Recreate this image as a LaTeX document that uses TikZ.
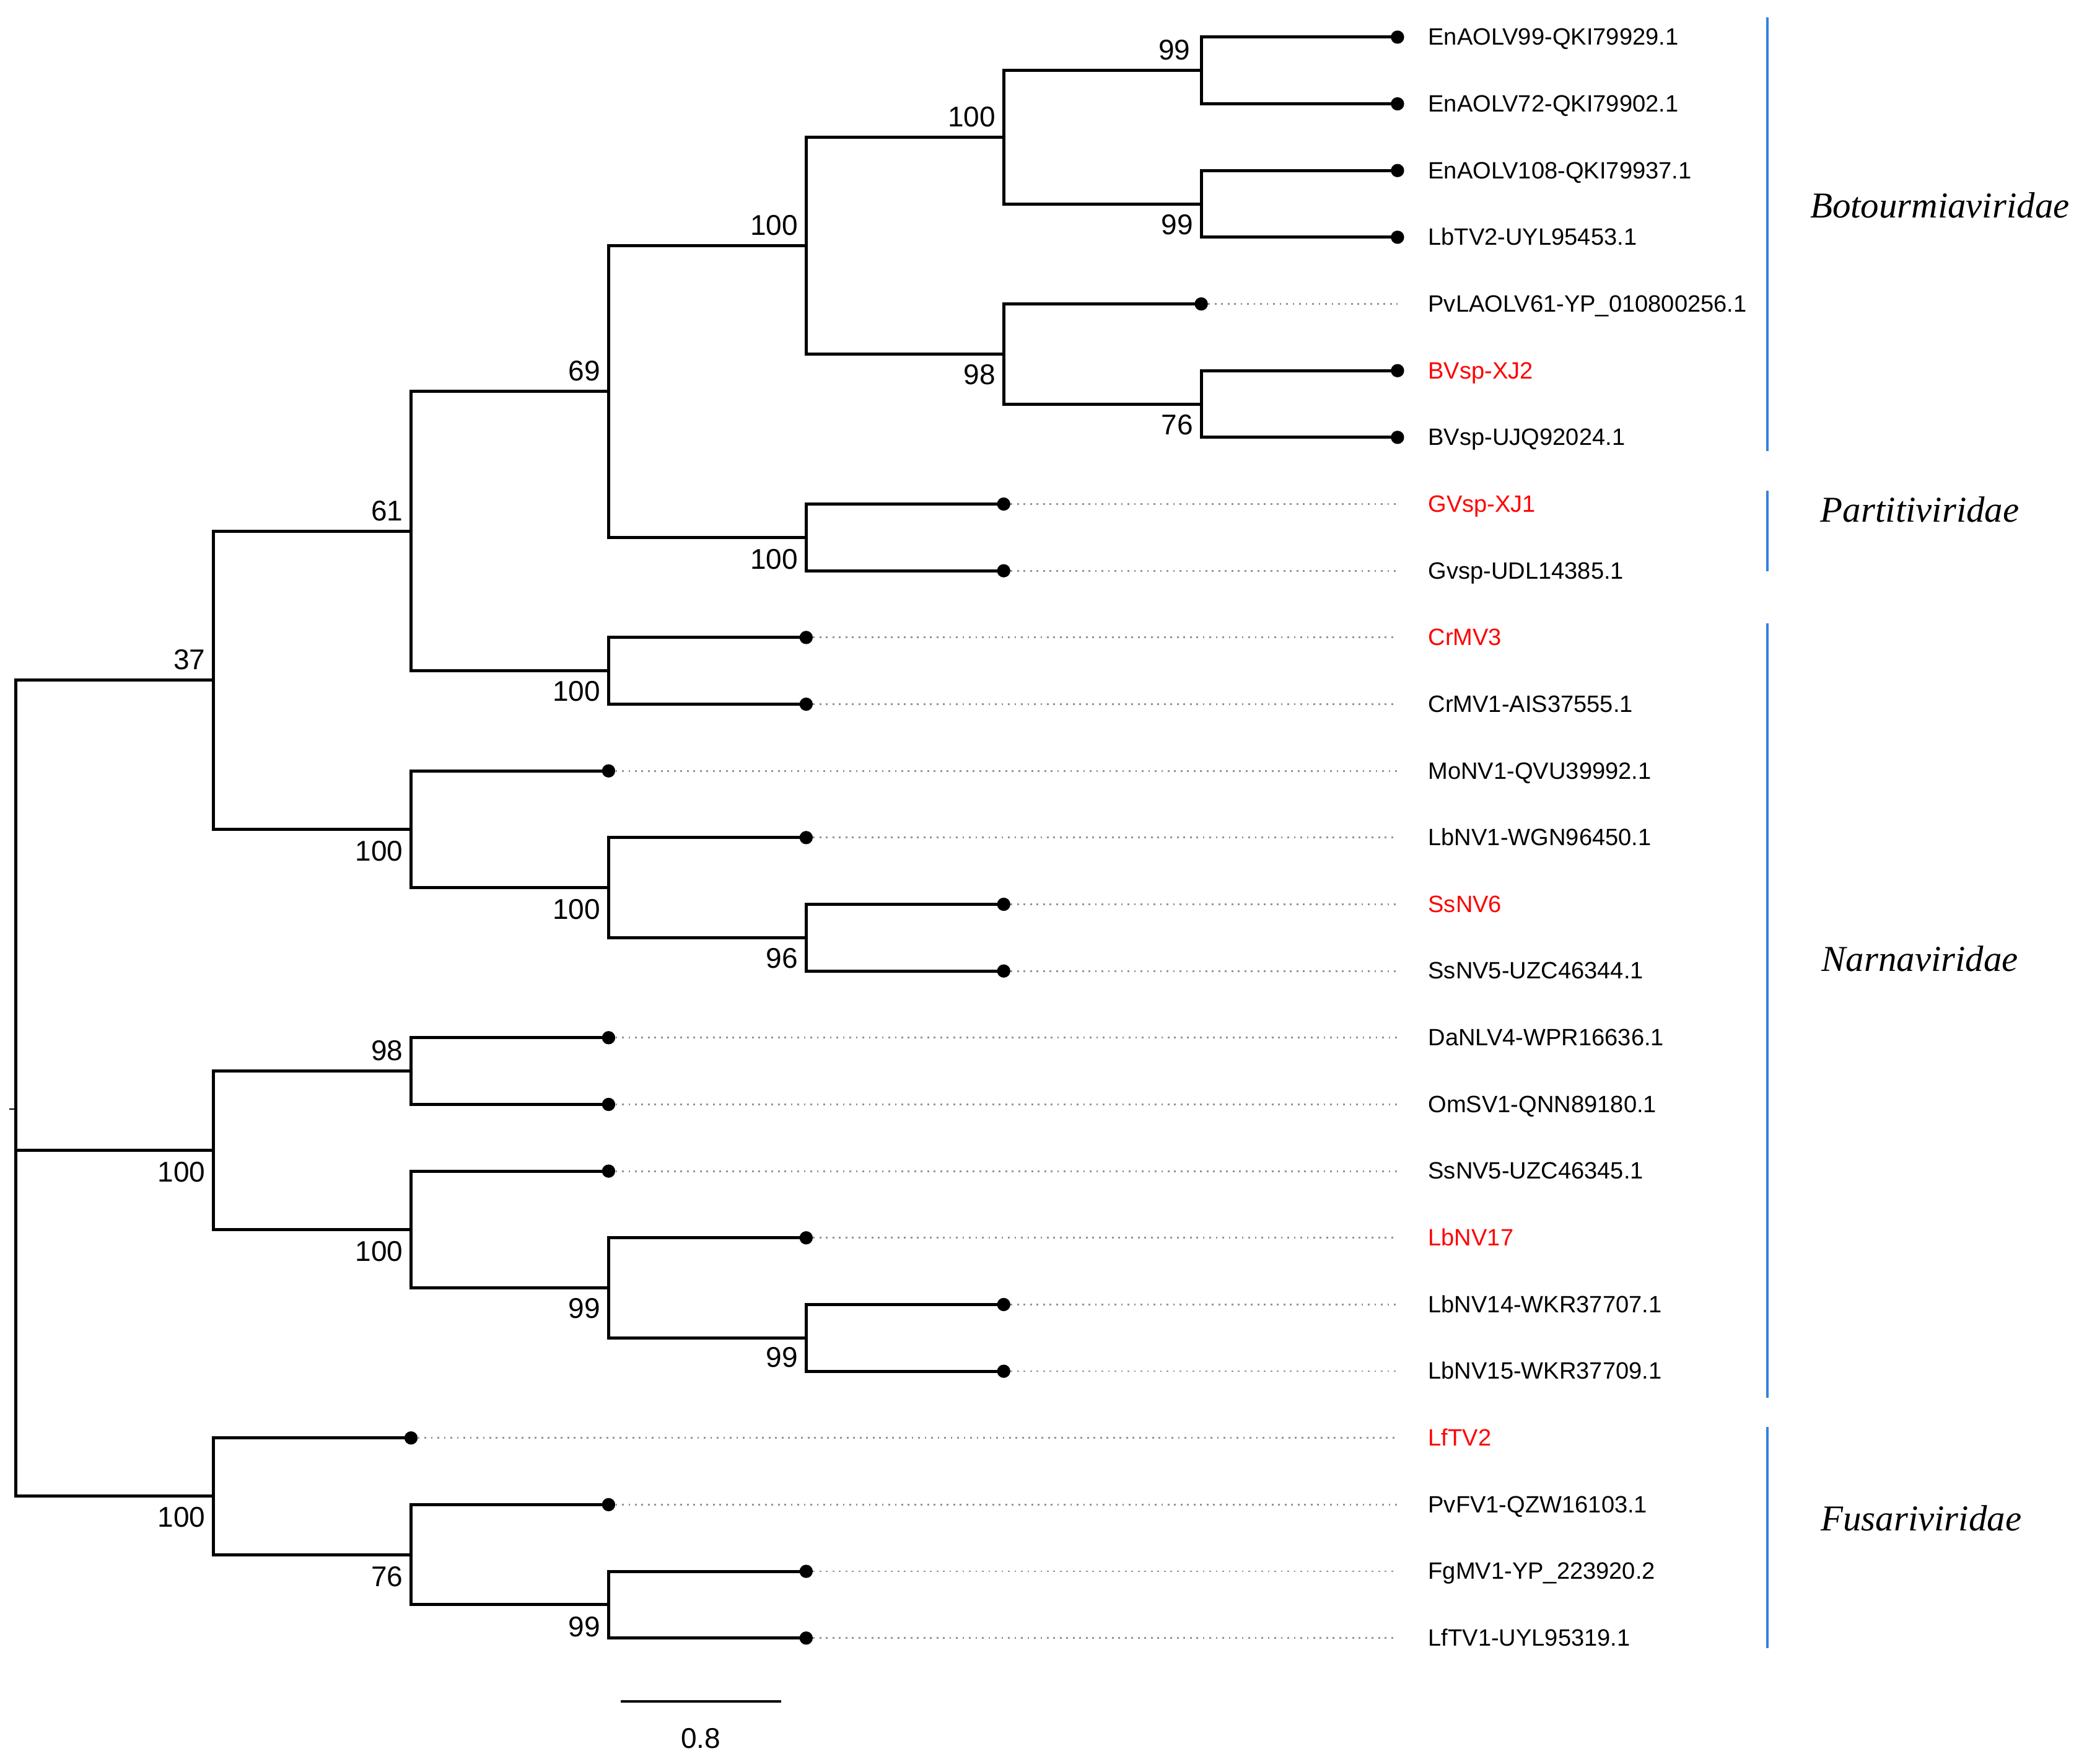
\documentclass[tikz,border=0pt]{standalone}
\usepackage{fontspec}
\setmainfont{Liberation Sans}
\newfontfamily\famfont{Liberation Serif}
\usetikzlibrary{calc}
\definecolor{barblue}{RGB}{52,130,224}
\definecolor{tipred}{RGB}{255,0,0}
\begin{document}
\begin{tikzpicture}[x=1pt,y=-1pt,
  branch/.style={line width=2.3pt},
  tipdot/.style={circle,fill=black,inner sep=0pt,minimum size=10pt},
  dotline/.style={line width=1.3pt,gray!85,dash pattern=on 1.3pt off 3.6pt},
  leaflab/.style={anchor=base west,inner sep=0pt,font=\fontsize{17.8}{20}\selectfont},
  redlab/.style={leaflab,text=tipred},
  boot/.style={anchor=base east,inner sep=0pt,font=\fontsize{21.5}{24}\selectfont},
  famline/.style={line width=2pt,barblue},
  famlab/.style={inner sep=0pt,font=\famfont\itshape\fontsize{27.5}{30}\selectfont}
]
\useasboundingbox (0,0) rectangle (1568,1330);

% ---- tips (dots)
\node[tipdot] (t1)  at (1054,28)    {};
\node[tipdot] (t2)  at (1054,78.3)  {};
\node[tipdot] (t3)  at (1054,128.6) {};
\node[tipdot] (t4)  at (1054,178.9) {};
\node[tipdot] (t5)  at (906,229.2)  {};
\node[tipdot] (t6)  at (1054,279.5) {};
\node[tipdot] (t7)  at (1054,329.8) {};
\node[tipdot] (t8)  at (757,380.1)  {};
\node[tipdot] (t9)  at (757,430.4)  {};
\node[tipdot] (t10) at (608,480.7)  {};
\node[tipdot] (t11) at (608,531)    {};
\node[tipdot] (t12) at (459,581.3)  {};
\node[tipdot] (t13) at (608,631.6)  {};
\node[tipdot] (t14) at (757,681.9)  {};
\node[tipdot] (t15) at (757,732.2)  {};
\node[tipdot] (t16) at (459,782.5)  {};
\node[tipdot] (t17) at (459,832.8)  {};
\node[tipdot] (t18) at (459,883.1)  {};
\node[tipdot] (t19) at (608,933.4)  {};
\node[tipdot] (t20) at (757,983.7)  {};
\node[tipdot] (t21) at (757,1034)   {};
\node[tipdot] (t22) at (310,1084.3) {};
\node[tipdot] (t23) at (459,1134.6) {};
\node[tipdot] (t24) at (608,1184.9) {};
\node[tipdot] (t25) at (608,1235.2) {};

% ---- ends of dotted guide lines
\coordinate (e5)  at (1054,229.2);
\coordinate (e8)  at (1054,380.1);
\coordinate (e9)  at (1054,430.4);
\coordinate (e10) at (1054,480.7);
\coordinate (e11) at (1054,531);
\coordinate (e12) at (1054,581.3);
\coordinate (e13) at (1054,631.6);
\coordinate (e14) at (1054,681.9);
\coordinate (e15) at (1054,732.2);
\coordinate (e16) at (1054,782.5);
\coordinate (e17) at (1054,832.8);
\coordinate (e18) at (1054,883.1);
\coordinate (e19) at (1054,933.4);
\coordinate (e20) at (1054,983.7);
\coordinate (e21) at (1054,1034);
\coordinate (e22) at (1054,1084.3);
\coordinate (e23) at (1054,1134.6);
\coordinate (e24) at (1054,1184.9);
\coordinate (e25) at (1054,1235.2);
\foreach \i in {5,8,9,10,11,12,13,14,15,16,17,18,19,20,21,22,23,24,25}
  \draw[dotline] (t\i) -- (e\i);

% ---- internal nodes
\coordinate (a) at (906,53.15);
\coordinate (b) at (906,153.75);
\coordinate (c) at (757,103.45);
\coordinate (d) at (906,304.65);
\coordinate (e) at (757,266.93);
\coordinate (f) at (608,185.19);
\coordinate (g) at (608,405.25);
\coordinate (h) at (459,295.22);
\coordinate (i) at (459,505.85);
\coordinate (j) at (310,400.53);
\coordinate (k) at (608,707.05);
\coordinate (l) at (459,669.33);
\coordinate (m) at (310,625.31);
\coordinate (n) at (161,512.92);
\coordinate (o) at (310,807.65);
\coordinate (p) at (608,1008.85);
\coordinate (q) at (459,971.13);
\coordinate (r) at (310,927.1);
\coordinate (s) at (161,867.4);
\coordinate (t) at (459,1210.05);
\coordinate (u) at (310,1172.3);
\coordinate (v) at (161,1128.3);
\coordinate (root) at (12,836.2);
\coordinate (rt) at (7,836.2);

% ---- branches
\draw[branch] (a) |- (t1.center);  \draw[branch] (a) |- (t2.center);
\draw[branch] (b) |- (t3.center);  \draw[branch] (b) |- (t4.center);
\draw[branch] (c) |- (a);          \draw[branch] (c) |- (b);
\draw[branch] (d) |- (t6.center);  \draw[branch] (d) |- (t7.center);
\draw[branch] (e) |- (t5.center);  \draw[branch] (e) |- (d);
\draw[branch] (f) |- (c);          \draw[branch] (f) |- (e);
\draw[branch] (g) |- (t8.center);  \draw[branch] (g) |- (t9.center);
\draw[branch] (h) |- (f);          \draw[branch] (h) |- (g);
\draw[branch] (i) |- (t10.center); \draw[branch] (i) |- (t11.center);
\draw[branch] (j) |- (h);          \draw[branch] (j) |- (i);
\draw[branch] (k) |- (t14.center); \draw[branch] (k) |- (t15.center);
\draw[branch] (l) |- (t13.center); \draw[branch] (l) |- (k);
\draw[branch] (m) |- (t12.center); \draw[branch] (m) |- (l);
\draw[branch] (n) |- (j);          \draw[branch] (n) |- (m);
\draw[branch] (o) |- (t16.center); \draw[branch] (o) |- (t17.center);
\draw[branch] (p) |- (t20.center); \draw[branch] (p) |- (t21.center);
\draw[branch] (q) |- (t19.center); \draw[branch] (q) |- (p);
\draw[branch] (r) |- (t18.center); \draw[branch] (r) |- (q);
\draw[branch] (s) |- (o);          \draw[branch] (s) |- (r);
\draw[branch] (t) |- (t24.center); \draw[branch] (t) |- (t25.center);
\draw[branch] (u) |- (t23.center); \draw[branch] (u) |- (t);
\draw[branch] (v) |- (t22.center); \draw[branch] (v) |- (u);
\draw[branch] (root) |- (n);       \draw[branch] (root) |- (s);
\draw[branch] (root) |- (v);
\draw[line width=1pt] (rt) -- (root);

% ---- bootstrap values (above: upper child, below: lower child)
\node[boot] (bs-a) at ($(a)+(-8,-8)$) {99};
\node[boot] (bs-b) at ($(b)+(-6,23)$) {99};
\node[boot] (bs-c) at ($(c)+(-6,-8)$) {100};
\node[boot] (bs-d) at ($(d)+(-6,23)$) {76};
\node[boot] (bs-e) at ($(e)+(-6,23)$) {98};
\node[boot] (bs-f) at ($(f)+(-6,-8)$) {100};
\node[boot] (bs-g) at ($(g)+(-6,24)$) {100};
\node[boot] (bs-h) at ($(h)+(-6,-8)$) {69};
\node[boot] (bs-i) at ($(i)+(-6,23)$) {100};
\node[boot] (bs-j) at ($(j)+(-6,-8)$) {61};
\node[boot] (bs-k) at ($(k)+(-6,23)$) {96};
\node[boot] (bs-l) at ($(l)+(-6,24)$) {100};
\node[boot] (bs-m) at ($(m)+(-6,24)$) {100};
\node[boot] (bs-n) at ($(n)+(-6,-8)$) {37};
\node[boot] (bs-o) at ($(o)+(-6,-8)$) {98};
\node[boot] (bs-p) at ($(p)+(-6,22)$) {99};
\node[boot] (bs-q) at ($(q)+(-6,23)$) {99};
\node[boot] (bs-r) at ($(r)+(-6,24)$) {100};
\node[boot] (bs-s) at ($(s)+(-6,24)$) {100};
\node[boot] (bs-t) at ($(t)+(-6,24)$) {99};
\node[boot] (bs-u) at ($(u)+(-6,24)$) {76};
\node[boot] (bs-v) at ($(v)+(-6,23)$) {100};

% ---- leaf labels
\node[leaflab] (lab1)  at (1077,34)     {EnAOLV99-QKI79929.1};
\node[leaflab] (lab2)  at (1077,84.3)   {EnAOLV72-QKI79902.1};
\node[leaflab] (lab3)  at (1077,134.6)  {EnAOLV108-QKI79937.1};
\node[leaflab] (lab4)  at (1077,184.9)  {LbTV2-UYL95453.1};
\node[leaflab] (lab5)  at (1077,235.2)  {PvLAOLV61-YP\_010800256.1};
\node[redlab]  (lab6)  at (1077,285.5)  {BVsp-XJ2};
\node[leaflab] (lab7)  at (1077,335.8)  {BVsp-UJQ92024.1};
\node[redlab]  (lab8)  at (1077,386.1)  {GVsp-XJ1};
\node[leaflab] (lab9)  at (1077,436.4)  {Gvsp-UDL14385.1};
\node[redlab]  (lab10) at (1077,486.7)  {CrMV3};
\node[leaflab] (lab11) at (1077,537)    {CrMV1-AIS37555.1};
\node[leaflab] (lab12) at (1077,587.3)  {MoNV1-QVU39992.1};
\node[leaflab] (lab13) at (1077,637.6)  {LbNV1-WGN96450.1};
\node[redlab]  (lab14) at (1077,687.9)  {SsNV6};
\node[leaflab] (lab15) at (1077,738.2)  {SsNV5-UZC46344.1};
\node[leaflab] (lab16) at (1077,788.5)  {DaNLV4-WPR16636.1};
\node[leaflab] (lab17) at (1077,838.8)  {OmSV1-QNN89180.1};
\node[leaflab] (lab18) at (1077,889.1)  {SsNV5-UZC46345.1};
\node[redlab]  (lab19) at (1077,939.4)  {LbNV17};
\node[leaflab] (lab20) at (1077,989.7)  {LbNV14-WKR37707.1};
\node[leaflab] (lab21) at (1077,1040)   {LbNV15-WKR37709.1};
\node[redlab]  (lab22) at (1077,1090.3) {LfTV2};
\node[leaflab] (lab23) at (1077,1140.6) {PvFV1-QZW16103.1};
\node[leaflab] (lab24) at (1077,1190.9) {FgMV1-YP\_223920.2};
\node[leaflab] (lab25) at (1077,1241.2) {LfTV1-UYL95319.1};

% ---- family bars and names
\coordinate (fa1) at (1333,13);   \coordinate (fa2) at (1333,340);
\coordinate (fb1) at (1333,370);  \coordinate (fb2) at (1333,431);
\coordinate (fc1) at (1333,470);  \coordinate (fc2) at (1333,1054);
\coordinate (fd1) at (1333,1076); \coordinate (fd2) at (1333,1243);
\draw[famline] (fa1) -- (fa2);
\draw[famline] (fb1) -- (fb2);
\draw[famline] (fc1) -- (fc2);
\draw[famline] (fd1) -- (fd2);
\node[famlab] (famA) at (1463,155)  {Botourmiaviridae};
\node[famlab] (famB) at (1448,384)  {Partitiviridae};
\node[famlab] (famC) at (1448,723)  {Narnaviridae};
\node[famlab] (famD) at (1449,1145) {Fusariviridae};

% ---- scale bar
\coordinate (sb1) at (468,1283);
\coordinate (sb2) at (589,1283);
\draw[line width=2pt] (sb1) -- (sb2);
\node[inner sep=0pt,font=\fontsize{21.5}{24}\selectfont] (sblab) at (528.5,1311) {0.8};
\end{tikzpicture}
\end{document}
